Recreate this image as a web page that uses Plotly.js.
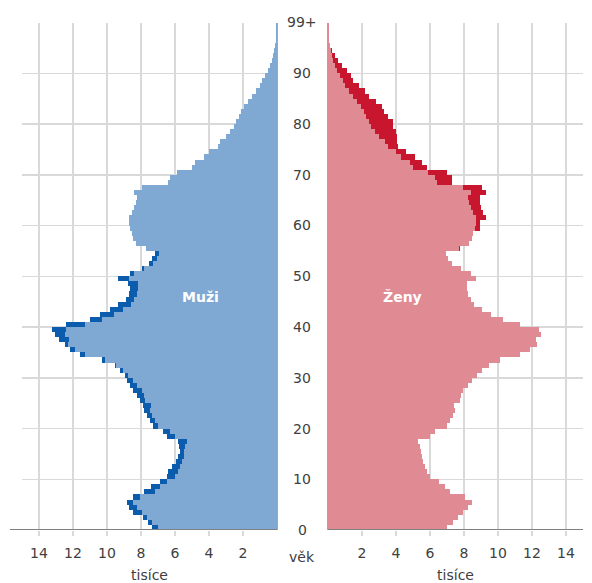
<!DOCTYPE html>
<html><head><meta charset="utf-8">
<script src="https://cdn.plot.ly/plotly-3.0.1.min.js"></script>
<style>html,body{margin:0;padding:0;background:#fff}#chart{width:592px;height:583px}</style>
</head><body><div id="chart"></div>
<script>
// age categories 0 .. 99+
const ages = [0,1,2,3,4,5,6,7,8,9,10,11,12,13,14,15,16,17,18,19,20,21,22,23,24,25,26,27,28,29,
  30,31,32,33,34,35,36,37,38,39,40,41,42,43,44,45,46,47,48,49,50,51,52,53,54,55,56,57,58,59,
  60,61,62,63,64,65,66,67,68,69,70,71,72,73,74,75,76,77,78,79,80,81,82,83,84,85,86,87,88,89,
  90,91,92,93,94,95,96,97,98,99];
const ageTickVals = [0,10,20,30,40,50,60,70,80,90,100];
const ageTickText = ['0','10','20','30','40','50','60','70','80','90','99+'];

// population in thousands
const men = [7.35,7.6,7.9,8.5,8.7,8.8,8.5,7.8,7.4,6.9,
  6.5,6.4,6.2,5.95,5.8,5.7,5.75,5.8,6.5,6.7,
  7.3,7.45,7.65,7.85,7.9,8.05,8.25,8.45,8.65,8.85,
  8.95,9.25,9.55,10.3,11.6,12.2,12.5,12.8,13.05,13.25,
  12.4,11.0,10.4,9.85,9.35,8.9,8.7,8.65,8.75,9.35,
  8.65,7.95,7.55,7.35,7.15,7.7,8.3,8.45,8.55,8.65,
  8.7,8.7,8.55,8.4,8.3,8.25,8.4,7.95,6.4,6.3,
  5.9,5.0,4.85,4.3,4.0,3.5,3.35,3.0,2.75,2.55,
  2.4,2.25,2.1,1.95,1.7,1.45,1.25,1.0,0.88,0.7,
  0.55,0.42,0.32,0.23,0.16,0.11,0.07,0.04,0.03,0.03];
const women = [7.0,7.35,7.65,7.95,8.25,8.45,8.05,7.2,6.9,6.5,
  6.0,5.8,5.7,5.6,5.5,5.45,5.4,5.3,6.0,6.3,
  7.0,7.15,7.35,7.45,7.4,7.75,7.85,7.95,8.25,8.45,
  8.75,9.05,9.45,10.1,11.3,11.9,12.3,12.25,12.5,12.4,
  11.3,10.3,9.6,9.05,8.6,8.4,8.25,8.15,8.2,8.7,
  8.4,7.8,7.3,7.05,6.95,7.75,8.3,8.45,8.55,8.95,
  8.95,9.3,9.1,9.0,8.95,8.95,9.3,9.05,7.3,7.3,
  7.0,5.8,5.5,5.1,4.6,4.1,4.05,4.05,4.0,3.85,
  3.8,3.55,3.3,3.2,2.85,2.4,2.2,1.8,1.45,1.35,
  1.1,0.8,0.6,0.4,0.22,0.1,0.06,0.04,0.03,0.03];

const xTickVals = [2,4,6,8,10,12,14];
const xTickText = ['2','4','6','8','10','12','14'];

// derived: common part and surplus of each sex
const common = men.map((m,i)=>Math.min(m,women[i]));
const menSurplus = men.map((m,i)=>Math.max(m-women[i],0));
const womenSurplus = women.map((w,i)=>Math.max(w-men[i],0));

const C = {menLight:'#7fa8d3', menDark:'#0c5cad', womenLight:'#e08a93', womenDark:'#c8162e'};

function bar(x, color, xa, ya){
  return {type:'bar', orientation:'h', y:ages, x:x, width:1, offset:0,
    marker:{color:color, line:{width:0}}, xaxis:xa, yaxis:ya, hoverinfo:'skip'};
}
const traces = [
  bar(common, C.menLight, 'x', 'y'),
  bar(menSurplus, C.menDark, 'x', 'y'),
  bar(common, C.womenLight, 'x2', 'y2'),
  bar(womenSurplus, C.womenDark, 'x2', 'y2')
];

const W = 592, H = 583;
const yDom = [1-530/H, 1-22.5/H];
const gridC = '#d9d9d9';
const txtC = '#404040';
function xAxis(dom, rng, anchor){
  return {domain:dom, range:rng, anchor:anchor, tickvals:xTickVals, ticktext:xTickText,
    showgrid:true, gridcolor:gridC, gridwidth:1.5, zeroline:true, zerolinecolor:'#a6a6a6', zerolinewidth:1.5,
    showline:false, ticks:'outside', ticklen:5, tickcolor:gridC, tickwidth:1.5, ticklabelstandoff:5,
    tickfont:{size:14, color:txtC}, fixedrange:true,
    title:{text:'tisíce', font:{size:14, color:txtC}, standoff:10}};
}
function yAxis(anchor){
  return {domain:yDom, range:[0,100], anchor:anchor, tickvals:ageTickVals, showticklabels:false,
    showgrid:true, gridcolor:gridC, gridwidth:1.5, zeroline:false, showline:false, ticks:'', fixedrange:true};
}

const annotations = ageTickVals.map((v,i)=>({xref:'paper', yref:'y', x:302/W, y:v, text:ageTickText[i],
  showarrow:false, xanchor:'center', yanchor:'middle', font:{size:14, color:txtC}}));
annotations.push({xref:'paper', yref:'paper', x:302/W, y:1-557/H, text:'věk', showarrow:false,
  xanchor:'center', yanchor:'middle', font:{size:14, color:txtC}});
annotations.push({xref:'x', yref:'y', x:4.5, y:46, text:'<b>Muži</b>', showarrow:false,
  xanchor:'center', yanchor:'middle', font:{size:14, color:'#ffffff'}});
annotations.push({xref:'x2', yref:'y2', x:4.4, y:46, text:'<b>Ženy</b>', showarrow:false,
  xanchor:'center', yanchor:'middle', font:{size:14, color:'#ffffff'}});

const shapes = [
  {type:'line', xref:'paper', yref:'y', x0:10/W, x1:277/W, y0:0, y1:0, line:{color:'#808080', width:2}},
  {type:'line', xref:'paper', yref:'y2', x0:328/W, x1:583/W, y0:0, y1:0, line:{color:'#808080', width:2}}
];

const layout = {
  width:W, height:H, margin:{l:0,r:0,t:0,b:0}, paper_bgcolor:'#ffffff', plot_bgcolor:'rgba(0,0,0,0)',
  showlegend:false, barmode:'stack', bargap:0,
  font:{family:'"DejaVu Sans", Verdana, sans-serif', size:14, color:txtC},
  xaxis: xAxis([22/W, 277/W], [15,0], 'y'),
  yaxis: yAxis('x'),
  xaxis2: xAxis([328/W, 583/W], [0,15], 'y2'),
  yaxis2: yAxis('x2'),
  annotations: annotations,
  shapes: shapes
};

Plotly.newPlot('chart', traces, layout, {staticPlot:true, displayModeBar:false});
</script>
</body></html>
